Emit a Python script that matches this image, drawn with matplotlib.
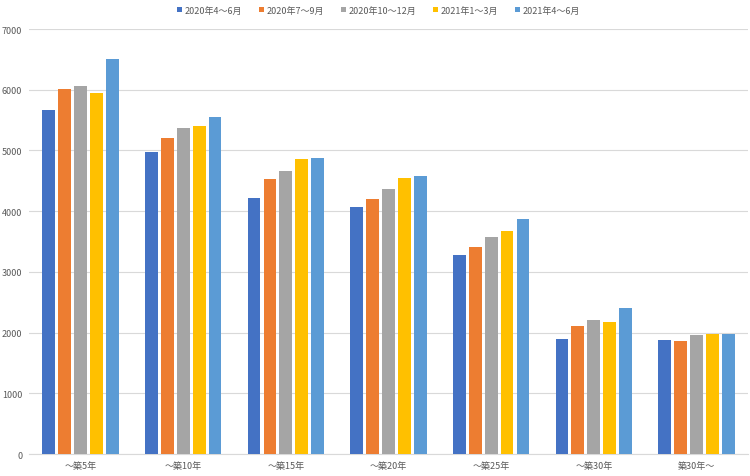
import numpy as np
from matplotlib import pyplot as plt

plt.rcParams['font.family'] = ['Noto Sans CJK JP', 'DejaVu Sans']

categories = ['～築5年', '～築10年', '～築15年', '～築20年', '～築25年', '～築30年', '築30年～']
series = ['2020年4～6月', '2020年7～9月', '2020年10～12月', '2021年1～3月', '2021年4～6月']
colors = ['#4472C4', '#ED7D31', '#A5A5A5', '#FFC000', '#5B9BD5']

q2_2020 = [5667, 4967, 4218, 4066, 3279, 1890, 1880]
q3_2020 = [6016, 5208, 4530, 4208, 3410, 2109, 1869]
q4_2020 = [6061, 5366, 4667, 4366, 3569, 2202, 1962]
q1_2021 = [5950, 5405, 4852, 4541, 3672, 2175, 1984]
q2_2021 = [6508, 5557, 4869, 4580, 3869, 2410, 1973]
values = [q2_2020, q3_2020, q4_2020, q1_2021, q2_2021]

fig = plt.figure(figsize=(7.5, 4.77), dpi=100)
ax = fig.add_axes([0.039, 0.046, 0.958, 0.891])

x = np.arange(len(categories))
pitch = 0.155
width = 0.125
for i, (name, vals) in enumerate(zip(series, values)):
    ax.bar(x + (i - 2) * pitch, vals, width, color=colors[i], label=name, zorder=3)

ax.set_xlim(-0.5, len(categories) - 0.5)
ax.set_ylim(0, 7000)
ax.set_yticks(range(0, 7001, 1000))
ax.set_xticks(x)
ax.set_xticklabels(categories)
ax.grid(axis='y', color='#D9D9D9', linewidth=0.8, zorder=0)
for s in ['top', 'right', 'left']:
    ax.spines[s].set_visible(False)
ax.spines['bottom'].set_color('#D9D9D9')
ax.tick_params(axis='both', length=0, labelsize=6.5, colors='#595959')
ax.tick_params(axis='x', pad=5)
ax.tick_params(axis='y', pad=5)

ax.legend(loc='lower center', bbox_to_anchor=(0.486, 1.0), ncol=5, frameon=False,
          fontsize=6.5, labelcolor='#595959', handlelength=0.6, handleheight=0.6,
          handletextpad=0.3, columnspacing=1.8, borderaxespad=1.2)

plt.savefig('out.png', dpi=100)
